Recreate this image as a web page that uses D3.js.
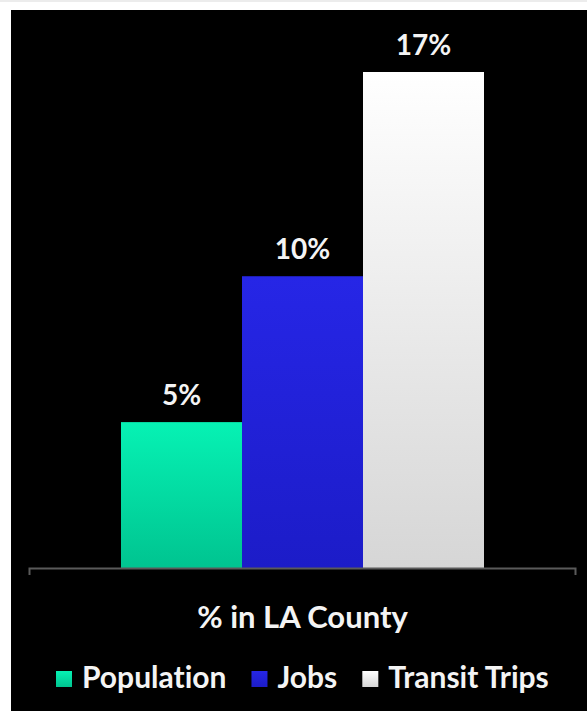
<!doctype html>
<html>
  <head>
    <title>% in LA County</title>
    <script src="https://cdnjs.cloudflare.com/ajax/libs/d3/7.8.5/d3.min.js"></script>
    <style>
      body { margin: 0; background: #fff; }
      svg { display: block; }
      text { font-family: Lato, "Open Sans", sans-serif; font-weight: bold; fill: #f4f4f4; font-variant-ligatures: none; }
      .axis path { stroke: #5a5a5a; stroke-width: 2; fill: none; }
    </style>
  </head>
  <body>
    <svg width="587" height="711"></svg>
    <script>
      var categories = ["Population", "Jobs", "Transit Trips"];
      var values = [5, 10, 17];
      var valueLabels = ["5%", "10%", "17%"];
      var axisTitle = "% in LA County";

      var svg = d3.select("svg");

      // light frame on the top and left, black panel
      svg.append("rect").attr("x", 0).attr("y", 0).attr("width", 587).attr("height", 2).attr("fill", "#ececec");
      svg.append("rect").attr("x", 11).attr("y", 10).attr("width", 576).attr("height", 701).attr("fill", "#000");

      var x = d3.scaleBand().domain(categories).range([121, 484]).padding(0);
      var y = d3.scaleLinear().domain([0, 17]).range([568, 72]);

      var defs = svg.append("defs");
      var grads = {
        "Population": ["#06f2b4", "#00c490"],
        "Jobs": ["#2626e6", "#1c1cc8"],
        "Transit Trips": ["#ffffff", "#d6d6d6"]
      };
      categories.forEach(function(c, i) {
        var g = defs.append("linearGradient").attr("id", "g" + i)
          .attr("x1", 0).attr("y1", 0).attr("x2", 0).attr("y2", 1);
        g.append("stop").attr("offset", "0%").attr("stop-color", grads[c][0]);
        g.append("stop").attr("offset", "100%").attr("stop-color", grads[c][1]);
      });

      svg.selectAll("rect.bar").data(categories)
        .enter()
        .append("rect")
          .attr("class", "bar")
          .attr("x", d => x(d))
          .attr("width", x.bandwidth())
          .attr("y", (d, i) => y(values[i]))
          .attr("height", (d, i) => y(0) - y(values[i]))
          .attr("fill", (d, i) => "url(#g" + i + ")");

      svg.selectAll("text.val").data(categories)
        .enter()
        .append("text")
          .attr("class", "val")
          .attr("x", d => x(d) + x.bandwidth() / 2)
          .attr("y", (d, i) => y(values[i]) - 17)
          .attr("text-anchor", "middle")
          .style("font-size", "28px")
          .text((d, i) => valueLabels[i]);

      // baseline with end ticks
      var axisScale = d3.scaleLinear().domain([0, 1]).range([29, 575]);
      svg.append("g").attr("class", "axis")
        .attr("transform", "translate(0," + y(0) + ")")
        .call(d3.axisBottom(axisScale).tickValues([]).tickSizeOuter(7));

      svg.append("text")
        .attr("x", (x.range()[0] + x.range()[1]) / 2)
        .attr("y", 628)
        .attr("text-anchor", "middle")
        .style("font-size", "31px")
        .text(axisTitle);

      // legend
      var lx = 56;
      categories.forEach(function(c, i) {
        svg.append("rect").attr("x", lx).attr("y", 671).attr("width", 16).attr("height", 16)
          .attr("fill", "url(#g" + i + ")");
        var t = svg.append("text").attr("x", lx + 26).attr("y", 688)
          .style("font-size", "30px").text(c);
        lx = lx + 26 + t.node().getComputedTextLength() + 25;
      });
    </script>
  </body>
</html>
